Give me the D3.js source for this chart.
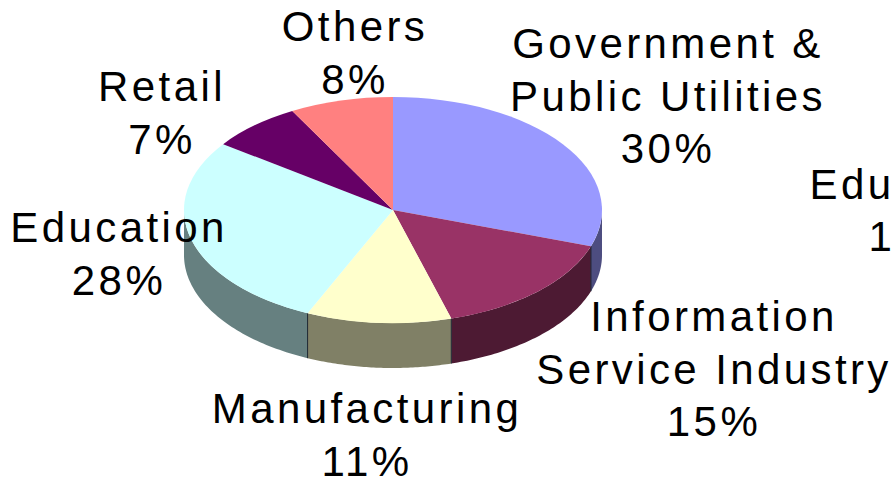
<!DOCTYPE html>
<html>
<head>
    <meta charset="utf-8" />
    <title></title>
    <script src="https://cdnjs.cloudflare.com/ajax/libs/d3/7.8.5/d3.min.js"></script>
    <style>
        html, body { margin: 0; padding: 0; background: #fff; overflow: hidden; }
        svg { display: block; }
        svg text {
            font-family: "Liberation Sans", Arial, sans-serif;
            font-size: 42px;
            letter-spacing: 3.4px;
            fill: #000;
            text-anchor: middle;
        }
    </style>
</head>
<body>
    <svg width="891" height="478"></svg>
    <script>
        var categories = ['Government & Public Utilities', 'Information Service Industry', 'Manufacturing', 'Education', 'Retail', 'Others'];
        // slice sizes, the printed labels are rounded
        var shares = [30.2, 15.3, 11.2, 28.2, 7.1, 8.0];
        var topColors = ['#9999ff', '#993366', '#ffffcc', '#ccffff', '#660066', '#ff8080'];
        var sideColors = ['#4d4d80', '#4d1a33', '#808066', '#668080', '#330033', '#804040'];
        var labelLines = [
            ['Government &', 'Public Utilities', '30%'],
            ['Information', 'Service Industry', '15%'],
            ['Manufacturing', '11%'],
            ['Education', '28%'],
            ['Retail', '7%'],
            ['Others', '8%'],
            ['Edu'],
            ['1']
        ];
        var labelAnchors = [[668, 58], [714, 331], [367, 423], [119, 242], [162, 101], [355, 41], [852, 199], [882, 251]];

        var cx = 393, cy = 210, rx = 209, ry = 113, depth = 45;

        var svg = d3.select('svg');

        var pie = d3.pie().sort(null).value(function (d) { return d; });
        var slices = pie(shares);

        // angle -> point on the tilted disc, h pushes it down to the bottom rim
        var xPos = d3.scaleLinear().domain([-1, 1]).range([cx - rx, cx + rx]);
        var yPos = d3.scaleLinear().domain([-1, 1]).range([cy - ry, cy + ry]);
        function rim(a, h) {
            return [xPos(Math.sin(a)), yPos(-Math.cos(a)) + h];
        }

        var line = d3.line();

        function wall(d) {
            // only the front half of the rim can be seen
            var a0 = Math.max(d.startAngle, Math.PI / 2);
            var a1 = Math.min(d.endAngle, 3 * Math.PI / 2);
            if (a1 <= a0) return null;
            var pts = [];
            d3.range(0, 61).forEach(function (i) {
                pts.push(rim(a0 + (a1 - a0) * i / 60, 0));
            });
            d3.range(60, -1, -1).forEach(function (i) {
                pts.push(rim(a0 + (a1 - a0) * i / 60, depth));
            });
            return line(pts) + 'Z';
        }

        svg.append('g').selectAll('path')
            .data(slices)
            .enter().append('path')
            .attr('d', wall)
            .attr('fill', function (d, i) { return sideColors[i]; });

        // dark seams where two walls meet
        svg.append('g').selectAll('path')
            .data(slices.filter(function (d) { return d.endAngle > Math.PI / 2 && d.endAngle < 3 * Math.PI / 2; }))
            .enter().append('path')
            .attr('d', function (d) { return line([rim(d.endAngle, 0), rim(d.endAngle, depth)]); })
            .attr('stroke', '#1c2430')
            .attr('stroke-width', 1)
            .attr('fill', 'none');

        var arc = d3.arc().innerRadius(0).outerRadius(rx);

        svg.append('g')
            .attr('transform', 'translate(' + cx + ',' + cy + ') scale(1,' + (ry / rx) + ')')
            .selectAll('path')
            .data(slices)
            .enter().append('path')
            .attr('d', arc)
            .attr('fill', function (d, i) { return topColors[i]; })
            .attr('data-name', function (d, i) { return categories[i]; });

        var lineHeight = 52.5;
        var labels = svg.append('g').selectAll('text')
            .data(labelLines)
            .enter().append('text')
            .attr('x', function (d, i) { return labelAnchors[i][0]; })
            .attr('y', function (d, i) { return labelAnchors[i][1]; });

        labels.selectAll('tspan')
            .data(function (d, i) { return d.map(function (t) { return { t: t, i: i }; }); })
            .enter().append('tspan')
            .attr('x', function (d) { return labelAnchors[d.i][0]; })
            .attr('dy', function (d, j) { return j ? lineHeight : 0; })
            .text(function (d) { return d.t; });
    </script>
</body>
</html>
